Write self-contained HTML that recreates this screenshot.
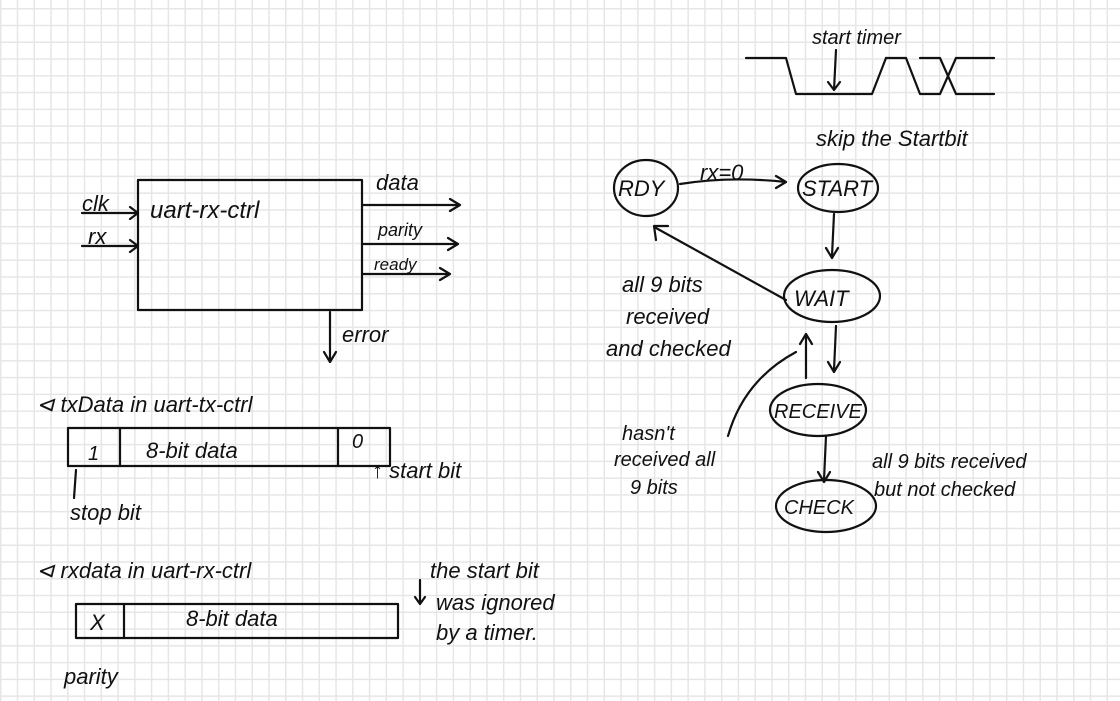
<!DOCTYPE html>
<html><head><meta charset="utf-8"><style>
html,body{margin:0;padding:0;background:#fff}
body{width:1120px;height:701px;overflow:hidden;
background-image:linear-gradient(to right,#e6e6e6 1.5px,transparent 1.5px),linear-gradient(to bottom,#e6e6e6 1.5px,transparent 1.5px);
background-size:16.78px 16.78px;background-position:0px 8px}
svg{display:block}
text{font-family:"Liberation Sans",sans-serif;fill:#111;font-style:italic}
.s{stroke:#111;stroke-width:2.2;fill:none;stroke-linecap:round;stroke-linejoin:round}
</style></head><body>
<svg width="1120" height="701" viewBox="0 0 1120 701" xmlns="http://www.w3.org/2000/svg">

<rect x="138" y="180" width="224" height="130" class="s"/>
<text x="150" y="218" font-size="24">uart-rx-ctrl</text>
<text x="82" y="211" font-size="22">clk</text>
<path class="s" d="M82 213 L138 213 M130 207 L138 213 L130 219"/>
<text x="88" y="244" font-size="22">rx</text>
<path class="s" d="M82 246 L138 246 M130 240 L138 246 L130 252"/>
<text x="376" y="190" font-size="22">data</text>
<path class="s" d="M362 205 L460 205 M450 199 L460 205 L450 211"/>
<text x="378" y="236" font-size="18">parity</text>
<path class="s" d="M362 244 L458 244 M448 238 L458 244 L448 250"/>
<text x="374" y="270" font-size="17">ready</text>
<path class="s" d="M362 274 L450 274 M440 268 L450 274 L440 280"/>
<path class="s" d="M330 312 L330 362 M324 352 L330 362 L336 352"/>
<text x="342" y="342" font-size="22">error</text>

<text x="36" y="412" font-size="22">⊲ txData in uart-tx-ctrl</text>
<rect x="68" y="428" width="322" height="38" class="s"/>
<path class="s" d="M120 428 V466 M338 428 V466"/>
<text x="88" y="460" font-size="20">1</text>
<text x="146" y="458" font-size="22">8-bit data</text>
<text x="352" y="448" font-size="20">0</text>
<text x="372" y="478" font-size="22">↑ start bit</text>
<text x="70" y="520" font-size="22">stop bit</text>
<path class="s" d="M76 470 L74 498"/>

<text x="36" y="578" font-size="22">⊲ rxdata in uart-rx-ctrl</text>
<rect x="76" y="604" width="322" height="34" class="s"/>
<path class="s" d="M124 604 V638"/>
<text x="90" y="630" font-size="22">X</text>
<text x="186" y="626" font-size="22">8-bit data</text>
<text x="64" y="684" font-size="22">parity</text>
<text x="430" y="578" font-size="22">the start bit</text>
<text x="436" y="610" font-size="22">was ignored</text>
<text x="436" y="640" font-size="22">by a timer.</text>
<path class="s" d="M420 580 L420 604 M415 597 L420 604 L425 597"/>

<text x="812" y="44" font-size="20">start timer</text>
<path class="s" d="M746 58 H786 L796 94 H872 L886 58 H906 L920 94 M872 94 L886 58 M906 58 L920 94 H940 L956 58 M920 58 H940 L956 94 M940 94 L956 58 H994 M956 94 H994"/>
<path class="s" d="M836 50 L834 90 M828 82 L834 90 L840 82"/>
<text x="816" y="146" font-size="22">skip the Startbit</text>

<ellipse cx="646" cy="188" rx="32" ry="28" class="s"/>
<text x="618" y="196" font-size="22">RDY</text>
<ellipse cx="838" cy="188" rx="40" ry="24" class="s"/>
<text x="802" y="196" font-size="22">START</text>
<path class="s" d="M680 184 Q730 176 786 182 M776 176 L786 182 L776 188"/>
<text x="700" y="180" font-size="22">rx=0</text>
<path class="s" d="M834 214 L832 256 M826 248 L832 258 L838 248"/>
<ellipse cx="832" cy="296" rx="48" ry="26" class="s"/>
<text x="794" y="306" font-size="22">WAIT</text>
<path class="s" d="M786 300 L656 228 M656 240 L654 226 L668 226"/>
<text x="622" y="292" font-size="22">all 9 bits</text>
<text x="626" y="324" font-size="22">received</text>
<text x="606" y="356" font-size="22">and checked</text>
<path class="s" d="M806 378 L806 336 M800 344 L806 334 L812 344"/>
<path class="s" d="M836 326 L834 370 M828 362 L834 372 L840 362"/>
<ellipse cx="818" cy="410" rx="48" ry="26" class="s"/>
<text x="774" y="418" font-size="20">RECEIVE</text>
<path class="s" d="M796 352 Q744 380 728 436"/>
<text x="622" y="440" font-size="20">hasn't</text>
<text x="614" y="466" font-size="20">received all</text>
<text x="630" y="494" font-size="20">9 bits</text>
<path class="s" d="M826 436 L824 480 M818 472 L824 482 L830 472"/>
<ellipse cx="826" cy="506" rx="50" ry="26" class="s"/>
<text x="784" y="514" font-size="20">CHECK</text>
<text x="872" y="468" font-size="20">all 9 bits received</text>
<text x="874" y="496" font-size="20">but not checked</text>
</svg>
</body></html>
